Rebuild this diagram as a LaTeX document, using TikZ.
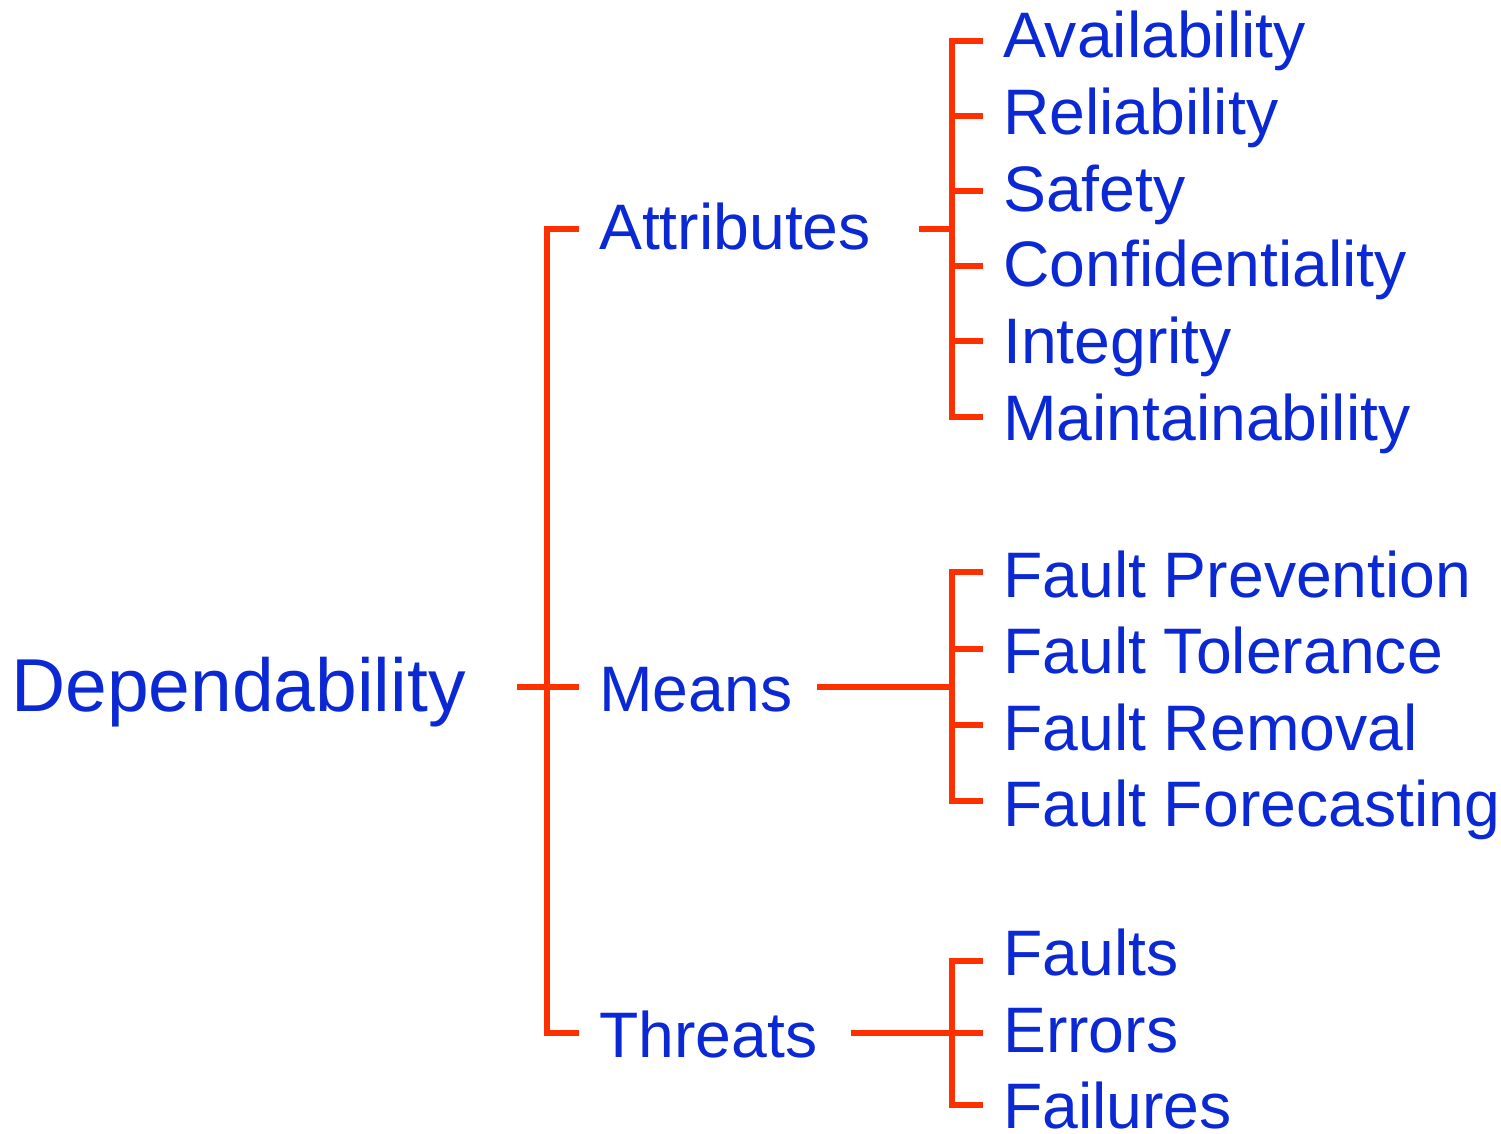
\documentclass[tikz,border=0pt]{standalone}
\usepackage{fontspec}
\setmainfont{Liberation Sans}
\definecolor{txtblue}{RGB}{10,40,212}
\definecolor{lnred}{RGB}{255,48,0}
\begin{document}
\begin{tikzpicture}[x=1pt,y=-1pt,
  lbl/.style={anchor=base west,inner sep=0pt,text=txtblue,font=\fontsize{64.3}{70}\selectfont},
  big/.style={lbl,font=\fontsize{75}{80}\selectfont},
  br/.style={draw=lnred,line width=6pt,line join=miter,line cap=butt}]
\useasboundingbox (0,0) rectangle (1501,1133);
% labels
\node[big] (dep) at (11,711) {Dependability};
\node[lbl] (att) at (599,249) {Attributes};
\node[lbl] (mea) at (599,711) {Means};
\node[lbl] (thr) at (599,1057) {Threats};
\node[lbl] (a1) at (1003,57) {Availability};
\node[lbl] (a2) at (1003,134) {Reliability};
\node[lbl] (a3) at (1003,211) {Safety};
\node[lbl] (a4) at (1003,286) {Confidentiality};
\node[lbl] (a5) at (1003,363) {Integrity};
\node[lbl] (a6) at (1003,440) {Maintainability};
\node[lbl] (m1) at (1003,597) {Fault Prevention};
\node[lbl] (m2) at (1003,673) {Fault Tolerance};
\node[lbl] (m3) at (1003,750) {Fault Removal};
\node[lbl] (m4) at (1003,826) {Fault Forecasting};
\node[lbl] (t1) at (1003,975) {Faults};
\node[lbl] (t2) at (1003,1052) {Errors};
\node[lbl] (t3) at (1003,1128) {Failures};
% connector points
\coordinate (depR) at (517,687);
\coordinate (rootA) at (547,229);
\coordinate (rootM) at (547,687);
\coordinate (rootT) at (547,1033);
\coordinate (attL) at (579,229);
\coordinate (meaL) at (579,687);
\coordinate (thrL) at (579,1033);
\coordinate (attR) at (919,229);
\coordinate (meaR) at (817,687);
\coordinate (thrR) at (851,1033);
\foreach \n/\y in {a1/41,a2/116,a3/191,a4/266,a5/341,a6/417,m1/572,m2/649,m3/725,m4/801,t1/961,t2/1033,t3/1105}{
  \coordinate (\n J) at (952,\y);
  \coordinate (\n L) at (983,\y);
}
% root bracket
\draw[br] (depR) -- (meaL);
\draw[br] (attL) -- (rootA) -- (rootT) -- (thrL);
% attributes bracket
\draw[br] (attR) -- (952,229);
\draw[br] (a1L) -- (a1J) -- (a6J) -- (a6L);
\foreach \n in {a2,a3,a4,a5}{\draw[br] (\n J) -- (\n L);}
% means bracket
\draw[br] (meaR) -- (952,687);
\draw[br] (m1L) -- (m1J) -- (m4J) -- (m4L);
\foreach \n in {m2,m3}{\draw[br] (\n J) -- (\n L);}
% threats bracket
\draw[br] (thrR) -- (t2J);
\draw[br] (t1L) -- (t1J) -- (t3J) -- (t3L);
\draw[br] (t2J) -- (t2L);
\end{tikzpicture}
\end{document}
